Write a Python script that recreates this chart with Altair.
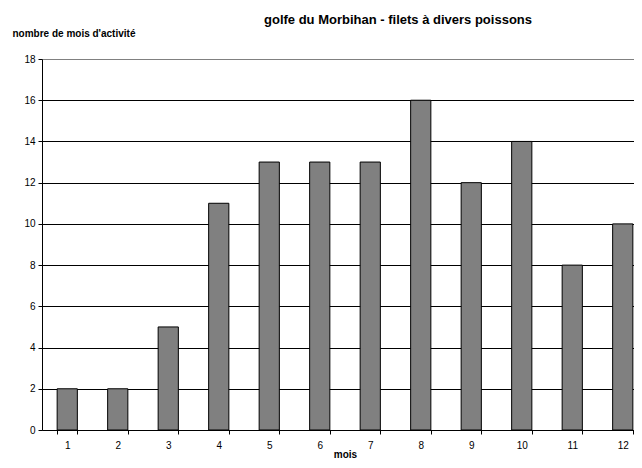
import altair as alt
import pandas as pd

months = [str(i) for i in range(1, 13)]
values = [2, 2, 5, 11, 13, 13, 13, 16, 12, 14, 8, 10]

df = pd.DataFrame({"mois": months, "valeur": values})

FONT = "Liberation Sans"

chart = alt.Chart(df).mark_bar(
    color="#808080", stroke="black", strokeWidth=1
).encode(
    x=alt.X("mois:N", sort=months,
            scale=alt.Scale(paddingInner=0.6, paddingOuter=0.3, range=[0, 606]),
            axis=alt.Axis(title="mois", labelAngle=0, tickBand="extent",
                          titleFontWeight="bold", titleFontSize=10,
                          titleX=303, titleY=27, titleAlign="center",
                          titleBaseline="alphabetic",
                          labelPadding=6, tickSize=4, labelFontSize=10)),
    y=alt.Y("valeur:Q", scale=alt.Scale(domain=[0, 18]),
            axis=alt.Axis(title="nombre de mois d'activité", values=list(range(0, 19, 2)),
                          titleAngle=0, titleAlign="left", titleBaseline="middle",
                          titleX=-30, titleY=-26, titleFontWeight="bold", titleFontSize=10,
                          grid=True,
                          gridColor=alt.condition("datum.value == 18", alt.value("#808080"), alt.value("black")),
                          gridWidth=1,
                          tickSize=4, labelPadding=3, labelFontSize=10)),
).properties(
    width=592, height=371,
    title=alt.TitleParams("golfe du Morbihan - filets à divers poissons",
                          fontSize=13, fontWeight="bold", font=FONT,
                          anchor="middle", dx=60, offset=1),
    autosize=alt.AutoSizeParams(type="none"),
    padding={"left": 34, "top": 51, "right": 0, "bottom": 28},
).configure_axis(
    domainColor="black", tickColor="black", labelColor="black", titleColor="black",
    labelFont=FONT, titleFont=FONT
).configure_view(stroke=None)

chart.save("out.html", embed_options={"renderer": "svg", "actions": False})
